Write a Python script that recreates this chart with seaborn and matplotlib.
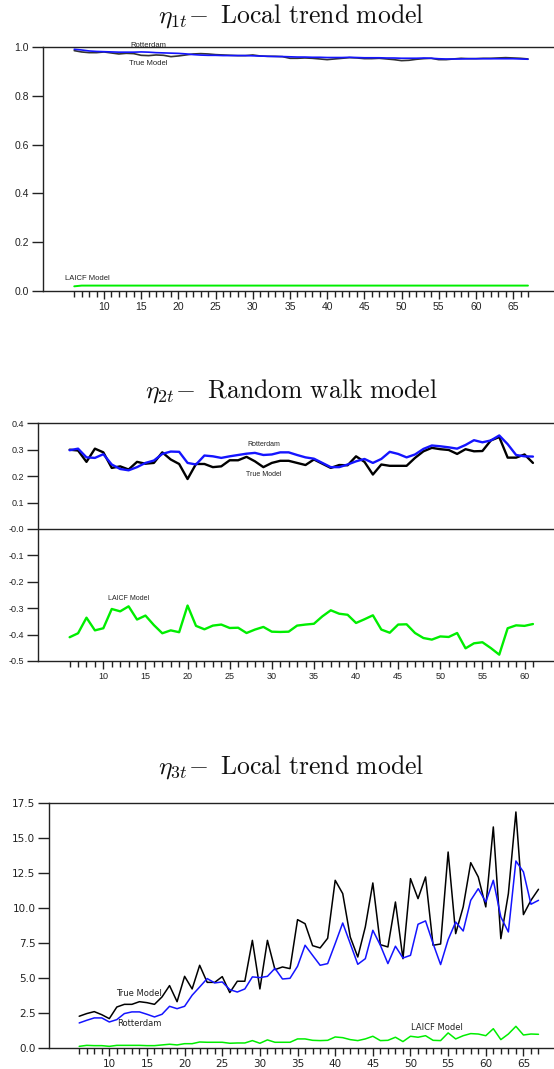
import matplotlib
matplotlib.use("Agg")
import matplotlib.pyplot as plt
import seaborn as sns
from matplotlib.ticker import FixedLocator, FuncFormatter

sns.set_style("white")
plt.rcParams['mathtext.fontset'] = 'cm'
plt.rcParams['font.family'] = ['Liberation Sans', 'DejaVu Sans']

# ---------------- data ----------------
t_local = list(range(6, 68))   # periods for the local trend panels
t_rw = list(range(6, 62))      # periods for the random walk panel

eta1_true = [0.9863, 0.9808, 0.9781, 0.9781, 0.9808, 0.9767, 0.9726, 0.9753, 0.9740, 0.9671,
             0.9658, 0.9685, 0.9671, 0.9616, 0.9644, 0.9685, 0.9726, 0.9740, 0.9726, 0.9699,
             0.9685, 0.9671, 0.9658, 0.9658, 0.9685, 0.9644, 0.9630, 0.9630, 0.9616, 0.9548,
             0.9548, 0.9562, 0.9548, 0.9521, 0.9493, 0.9521, 0.9548, 0.9575, 0.9562, 0.9534,
             0.9534, 0.9548, 0.9521, 0.9493, 0.9452, 0.9466, 0.9507, 0.9534, 0.9548, 0.9493,
             0.9493, 0.9521, 0.9548, 0.9534, 0.9534, 0.9548, 0.9548, 0.9562, 0.9575, 0.9562,
             0.9548, 0.9521]
eta1_rotterdam = [0.992, 0.989, 0.985, 0.983, 0.982, 0.981, 0.980, 0.980, 0.980, 0.981,
                  0.980, 0.978, 0.977, 0.976, 0.975, 0.973, 0.970, 0.968, 0.967, 0.967,
                  0.966, 0.966, 0.966, 0.966, 0.965, 0.964, 0.963, 0.962, 0.962, 0.961,
                  0.960, 0.960, 0.959, 0.959, 0.958, 0.958, 0.958, 0.959, 0.958, 0.957,
                  0.957, 0.957, 0.956, 0.956, 0.955, 0.955, 0.955, 0.956, 0.955, 0.953,
                  0.952, 0.952, 0.952, 0.953, 0.953, 0.953, 0.953, 0.953, 0.953, 0.953,
                  0.952, 0.951]
eta1_laicf = [0.018, 0.021, 0.021, 0.021, 0.021, 0.021, 0.021, 0.021, 0.021, 0.021,
              0.021, 0.021, 0.021, 0.021, 0.021, 0.021, 0.021, 0.021, 0.021, 0.021,
              0.021, 0.021, 0.021, 0.021, 0.021, 0.021, 0.021, 0.021, 0.021, 0.021,
              0.021, 0.021, 0.021, 0.021, 0.021, 0.021, 0.021, 0.021, 0.021, 0.021,
              0.021, 0.021, 0.021, 0.021, 0.021, 0.021, 0.021, 0.021, 0.021, 0.021,
              0.021, 0.021, 0.021, 0.021, 0.021, 0.021, 0.021, 0.021, 0.021, 0.021,
              0.021, 0.021]

eta2_true = [0.300, 0.297, 0.254, 0.304, 0.290, 0.231, 0.237, 0.225, 0.254, 0.247,
             0.250, 0.290, 0.263, 0.246, 0.189, 0.246, 0.246, 0.234, 0.237, 0.260,
             0.260, 0.273, 0.256, 0.234, 0.250, 0.258, 0.258, 0.250, 0.242, 0.263,
             0.247, 0.231, 0.242, 0.241, 0.275, 0.254, 0.206, 0.244, 0.239, 0.239,
             0.239, 0.269, 0.294, 0.307, 0.302, 0.299, 0.284, 0.302, 0.294, 0.295,
             0.335, 0.348, 0.270, 0.270, 0.282, 0.250]
eta2_rotterdam = [0.298, 0.304, 0.271, 0.269, 0.283, 0.244, 0.227, 0.222, 0.234, 0.250,
                  0.259, 0.284, 0.293, 0.292, 0.250, 0.244, 0.278, 0.275, 0.269, 0.275,
                  0.280, 0.285, 0.288, 0.280, 0.282, 0.290, 0.290, 0.280, 0.271, 0.266,
                  0.250, 0.234, 0.234, 0.244, 0.256, 0.265, 0.250, 0.265, 0.292, 0.284,
                  0.271, 0.282, 0.303, 0.316, 0.313, 0.309, 0.304, 0.318, 0.336, 0.328,
                  0.335, 0.354, 0.321, 0.280, 0.275, 0.274]
eta2_laicf = [-0.410, -0.395, -0.336, -0.384, -0.376, -0.303, -0.312, -0.293, -0.343, -0.328,
              -0.364, -0.395, -0.384, -0.391, -0.290, -0.367, -0.380, -0.366, -0.362, -0.375,
              -0.374, -0.394, -0.381, -0.371, -0.389, -0.390, -0.389, -0.366, -0.362, -0.359,
              -0.331, -0.308, -0.321, -0.325, -0.356, -0.342, -0.327, -0.381, -0.393, -0.362,
              -0.361, -0.394, -0.413, -0.419, -0.407, -0.409, -0.394, -0.452, -0.433, -0.429,
              -0.451, -0.476, -0.376, -0.365, -0.367, -0.360]

eta3_true = [2.29, 2.48, 2.62, 2.40, 2.12, 2.95, 3.14, 3.14, 3.33, 3.26,
             3.14, 3.67, 4.48, 3.33, 5.14, 4.24, 5.93, 4.71, 4.71, 5.12,
             3.98, 4.79, 4.79, 7.71, 4.24, 7.71, 5.62, 5.81, 5.69, 9.19,
             8.90, 7.33, 7.17, 7.86, 12.00, 11.05, 7.95, 6.52, 8.67, 11.81,
             7.40, 7.24, 10.45, 6.40, 12.12, 10.69, 12.24, 7.36, 7.45, 14.02,
             8.19, 10.10, 13.26, 12.24, 10.10, 15.81, 7.83, 11.05, 16.88, 9.55,
             10.57, 11.36]
eta3_rotterdam = [1.81, 2.00, 2.17, 2.17, 1.88, 2.05, 2.48, 2.60, 2.60, 2.43,
                  2.24, 2.43, 3.00, 2.83, 3.00, 3.79, 4.38, 4.98, 4.67, 4.74,
                  4.19, 4.02, 4.24, 5.10, 5.05, 5.14, 5.71, 4.95, 5.00, 5.86,
                  7.36, 6.64, 5.93, 6.05, 7.48, 8.95, 7.48, 6.00, 6.40, 8.43,
                  7.36, 6.05, 7.29, 6.45, 6.64, 8.86, 9.10, 7.48, 5.98, 7.76,
                  9.02, 8.38, 10.57, 11.40, 10.45, 12.00, 9.38, 8.31, 13.38, 12.60,
                  10.29, 10.57]
eta3_laicf = [0.14, 0.21, 0.19, 0.19, 0.14, 0.21, 0.21, 0.21, 0.21, 0.19,
              0.19, 0.24, 0.29, 0.24, 0.33, 0.33, 0.45, 0.43, 0.43, 0.43,
              0.36, 0.38, 0.38, 0.55, 0.36, 0.60, 0.43, 0.43, 0.43, 0.67,
              0.67, 0.57, 0.55, 0.57, 0.81, 0.76, 0.62, 0.55, 0.67, 0.86,
              0.55, 0.57, 0.79, 0.48, 0.86, 0.79, 0.90, 0.57, 0.55, 1.10,
              0.67, 0.90, 1.05, 1.02, 0.90, 1.40, 0.62, 1.02, 1.57, 0.95,
              1.02, 1.00]

x_major = [10, 15, 20, 25, 30, 35, 40, 45, 50, 55, 60, 65]
eta1_yticks = [0.0, 0.2, 0.4, 0.6, 0.8, 1.0]
eta2_yticks = [0.4, 0.3, 0.2, 0.1, 0.0, -0.1, -0.2, -0.3, -0.4, -0.5]
eta3_yticks = [0.0, 2.5, 5.0, 7.5, 10.0, 12.5, 15.0, 17.5]

titles = [r"$\eta_{1t}\!-\ \mathrm{Local\ trend\ model}$",
          r"$\eta_{2t}\!-\ \mathrm{Random\ walk\ model}$",
          r"$\eta_{3t}\!-\ \mathrm{Local\ trend\ model}$"]

BLUE = "#1414ff"
GREEN = "#00ee00"
BLACK = "#000000"

# ---------------- figure ----------------
W, H = 554, 1069
fig = plt.figure(figsize=(W / 100, H / 100), dpi=100)


def axes_px(left, top, right, bottom):
    return fig.add_axes([left / W, 1 - bottom / H, (right - left) / W, (bottom - top) / H])


def style_axes(ax, xlim, ylim, yticks, yfmt, xmin_minor, xmax_minor, font, fsize):
    ax.set_xlim(*xlim)
    ax.set_ylim(*ylim)
    ax.xaxis.set_major_locator(FixedLocator([v for v in x_major if v <= xmax_minor]))
    ax.xaxis.set_minor_locator(FixedLocator(list(range(xmin_minor, xmax_minor + 1))))
    ax.yaxis.set_major_locator(FixedLocator(yticks))
    ax.yaxis.set_major_formatter(FuncFormatter(yfmt))
    ax.tick_params(axis='x', which='major', direction='out', length=6, width=1,
                   bottom=True, pad=2, color="#222222")
    ax.tick_params(axis='x', which='minor', direction='out', length=4, width=1,
                   bottom=True, color="#222222")
    ax.tick_params(axis='y', which='major', direction='out', length=8, width=1,
                   left=True, pad=2, color="#222222")
    for lab in ax.get_xticklabels() + ax.get_yticklabels():
        lab.set_family(font)
        lab.set_fontsize(fsize)
        lab.set_color("#222222")
    ax.spines['right'].set_visible(False)
    for s in ('left', 'top', 'bottom'):
        ax.spines[s].set_color("#222222")
        ax.spines[s].set_linewidth(1.0)
    ax.set_xlabel("")
    ax.set_ylabel("")
    ax.grid(False)


def note(ax, x, y, s, font, fsize):
    ax.text(x, y, s, transform=ax.transData, ha='center', va='center',
            family=font, fontsize=fsize, color="#222222", clip_on=False)


# --- panel 1 ---
ax1 = axes_px(42.7, 47.3, 554, 290.7)
sns.lineplot(x=t_local, y=eta1_laicf, color=GREEN, lw=1.4, ax=ax1, legend=False)
sns.lineplot(x=t_local, y=eta1_true, color="#333333", lw=1.2, ax=ax1, legend=False)
sns.lineplot(x=t_local, y=eta1_rotterdam, color=BLUE, lw=1.2, ax=ax1, legend=False)
style_axes(ax1, (1.76, 70.5), (0.0, 1.0), eta1_yticks, lambda v, p: f"{v:.1f}",
           6, 67, ['Liberation Sans', 'DejaVu Sans'], 7.5)
note(ax1, 16.0, 1.007, "Rotterdam", ['Liberation Sans', 'DejaVu Sans'], 5.5)
note(ax1, 16.0, 0.935, "True Model", ['Liberation Sans', 'DejaVu Sans'], 5.5)
note(ax1, 7.8, 0.050, "LAICF Model", ['Liberation Sans', 'DejaVu Sans'], 5.5)

# --- panel 2 ---
ax2 = axes_px(38.3, 423.3, 554, 661)
ax2.axhline(0.0, color="#222222", lw=1.0)
sns.lineplot(x=t_rw, y=eta2_laicf, color=GREEN, lw=1.7, ax=ax2, legend=False)
sns.lineplot(x=t_rw, y=eta2_true, color=BLACK, lw=1.7, ax=ax2, legend=False)
sns.lineplot(x=t_rw, y=eta2_rotterdam, color=BLUE, lw=1.7, ax=ax2, legend=False)


def fmt_rw(v, p):
    if abs(v) < 1e-9:
        return "-0.0"
    return f"{v:.1f}"


narrow = ['Liberation Sans Narrow', 'Liberation Sans', 'DejaVu Sans']
style_axes(ax2, (2.28, 63.5), (-0.5, 0.4), eta2_yticks, fmt_rw,
           6, 61, narrow, 6.5)
note(ax2, 29.0, 0.318, "Rotterdam", narrow, 5.0)
note(ax2, 29.0, 0.205, "True Model", narrow, 5.0)
note(ax2, 13.0, -0.265, "LAICF Model", narrow, 5.0)

# --- panel 3 ---
ax3 = axes_px(49.3, 803.3, 554, 1048.3)
sns.lineplot(x=t_local, y=eta3_laicf, color=GREEN, lw=1.1, ax=ax3, legend=False)
sns.lineplot(x=t_local, y=eta3_true, color=BLACK, lw=1.1, ax=ax3, legend=False)
sns.lineplot(x=t_local, y=eta3_rotterdam, color=BLUE, lw=1.1, ax=ax3, legend=False)
wide = ['DejaVu Sans']
style_axes(ax3, (2.03, 69.06), (0.0, 17.5), eta3_yticks, lambda v, p: f"{v:.1f}",
           6, 67, wide, 7.5)
note(ax3, 14.0, 3.95, "True Model", wide, 6.0)
note(ax3, 14.0, 1.75, "Rotterdam", wide, 6.0)
note(ax3, 53.5, 1.45, "LAICF Model", wide, 6.0)

# --- titles ---
for ypx, txt in zip([16, 391, 767], titles):
    fig.text(291 / W, 1 - ypx / H, txt, ha='center', va='center', fontsize=18.5, color="#111111")

fig.savefig("out.png", dpi=100)
